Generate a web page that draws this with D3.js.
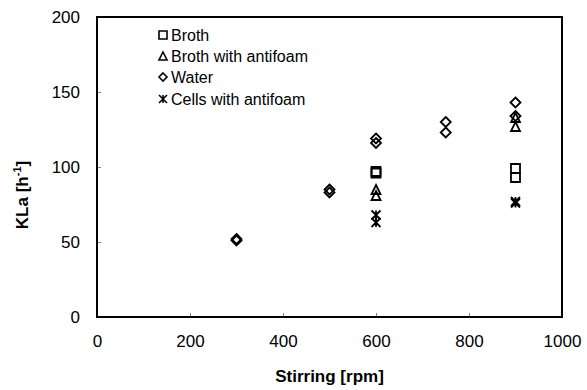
<!DOCTYPE html>
<html>
<head>
<meta charset="utf-8">
<script src="https://cdn.jsdelivr.net/npm/d3@7"></script>
<style>
  body { margin: 0; background: #fff; }
  text { font-family: Arial, "Liberation Sans", sans-serif; fill: #000; }
</style>
</head>
<body>
<svg id="chart" width="587" height="390"></svg>
<script>
// data
var xTicks = [0, 200, 400, 600, 800, 1000];
var yTicks = [0, 50, 100, 150, 200];

var brothX = [600, 600, 900, 900];
var brothY = [97, 96, 99, 93];

var brothAntifoamX = [600, 600, 900, 900];
var brothAntifoamY = [85, 81, 133, 127];

var waterX = [300, 300, 500, 500, 600, 600, 750, 750, 900, 900];
var waterY = [52, 51, 85, 83, 119, 116, 130, 123, 143, 134];

var cellsX = [600, 600, 900, 900];
var cellsY = [68, 63, 77, 76];

var seriesNames = ["Broth", "Broth with antifoam", "Water", "Cells with antifoam"];

var margin = {left: 97, right: 25, top: 17, bottom: 73};
var width = 587, height = 390;

var svg = d3.select("#chart");

var x = d3.scaleLinear().domain([0, 1000]).range([margin.left, width - margin.right]);
var y = d3.scaleLinear().domain([0, 200]).range([height - margin.bottom, margin.top]);

// marker shapes (centred at 0,0)
function squarePath(s) {
  var h = s / 2;
  return "M" + (-h) + "," + (-h) + "H" + h + "V" + h + "H" + (-h) + "Z";
}
function trianglePath(s) {
  var h = s / 2;
  return "M0," + (-h) + "L" + h + "," + h + "L" + (-h) + "," + h + "Z";
}
function diamondPath(s) {
  var h = s / 2;
  return "M0," + (-h) + "L" + h + ",0L0," + h + "L" + (-h) + ",0Z";
}
function starPath(s) {
  var h = s / 2;
  return "M" + (-h) + "," + (-h) + "L" + h + "," + h +
         "M" + h + "," + (-h) + "L" + (-h) + "," + h +
         "M0," + (-h) + "V" + h;
}

// axes (ticks inside)
var xAxis = d3.axisBottom(x).tickValues(xTicks).tickSize(-4).tickPadding(0).tickFormat(d3.format("d"));
var yAxis = d3.axisLeft(y).tickValues(yTicks).tickSize(-4).tickPadding(0).tickFormat(d3.format("d"));

var gx = svg.append("g")
    .attr("transform", "translate(0," + y(0) + ")")
    .call(xAxis);
gx.select(".domain").remove();
gx.selectAll(".tick line").attr("stroke", "#888").attr("stroke-width", 1);
gx.selectAll(".tick text")
    .attr("y", 30)
    .attr("dy", 0)
    .style("font-size", "17px");

var gy = svg.append("g")
    .attr("transform", "translate(" + x(0) + ",0)")
    .call(yAxis);
gy.select(".domain").remove();
gy.selectAll(".tick line").attr("stroke", "#888").attr("stroke-width", 1);
gy.selectAll(".tick text")
    .attr("x", -17)
    .attr("dy", "0.35em")
    .style("font-size", "17px");

// frame
svg.append("rect")
    .attr("x", x(0))
    .attr("y", y(200))
    .attr("width", x(1000) - x(0))
    .attr("height", y(0) - y(200))
    .attr("fill", "none")
    .attr("stroke", "#000")
    .attr("stroke-width", 2);

// axis titles
svg.append("text")
    .attr("x", (x(0) + x(1000)) / 2)
    .attr("y", 382)
    .attr("text-anchor", "middle")
    .style("font-size", "17px")
    .style("font-weight", "bold")
    .text("Stirring [rpm]");

var yt = svg.append("text")
    .attr("transform", "translate(28,195) rotate(-90)")
    .attr("text-anchor", "middle")
    .style("font-size", "17px")
    .style("font-weight", "bold");
yt.append("tspan").text("KLa [h");
yt.append("tspan").attr("dy", -7).style("font-size", "11px").text("-1");
yt.append("tspan").attr("dy", 7).text("]");

// points
function drawSeries(xs, ys, pathFn, size) {
  var pts = xs.map(function(d, i) { return {x: d, y: ys[i]}; });
  svg.append("g").selectAll("path")
      .data(pts)
      .enter().append("path")
      .attr("transform", function(d) { return "translate(" + x(d.x) + "," + y(d.y) + ")"; })
      .attr("d", pathFn(size))
      .attr("fill", "none")
      .attr("stroke", "#000")
      .attr("stroke-width", 1.8);
}

drawSeries(waterX, waterY, diamondPath, 10);
drawSeries(brothX, brothY, squarePath, 9);
drawSeries(brothAntifoamX, brothAntifoamY, trianglePath, 9);
drawSeries(cellsX, cellsY, starPath, 9);

// legend
var legendShapes = [squarePath, trianglePath, diamondPath, starPath];
var legendY = [35, 56, 77, 99];
var legend = svg.append("g");
seriesNames.forEach(function(name, i) {
  legend.append("path")
      .attr("transform", "translate(163," + legendY[i] + ")")
      .attr("d", legendShapes[i](8))
      .attr("fill", "none")
      .attr("stroke", "#000")
      .attr("stroke-width", 1.6);
  legend.append("text")
      .attr("x", 171)
      .attr("y", legendY[i])
      .attr("dy", "0.36em")
      .style("font-size", "16px")
      .text(name);
});
</script>
</body>
</html>
